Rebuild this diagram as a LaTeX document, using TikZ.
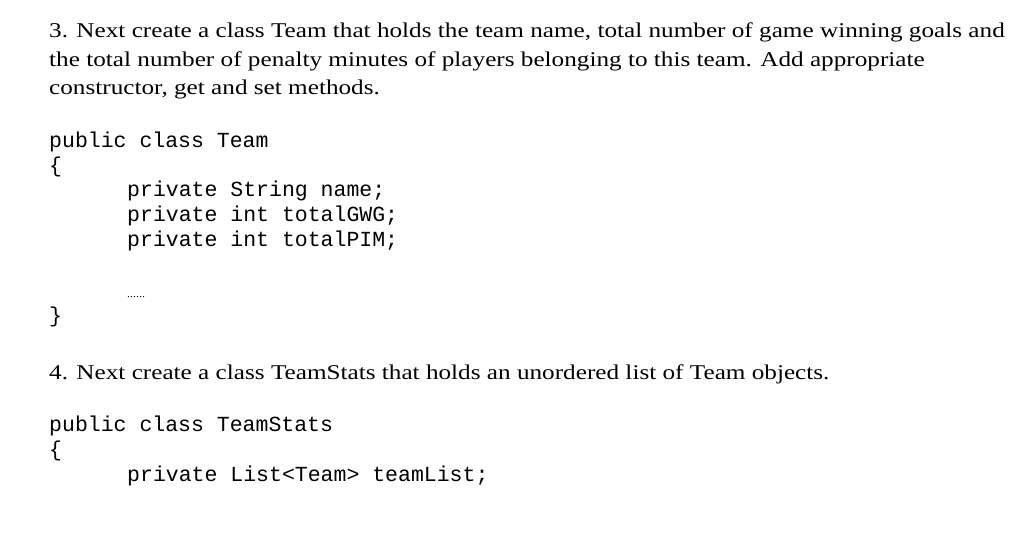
\documentclass[tikz,border=0pt]{standalone}
\usepackage{fontspec}
\setmainfont{Liberation Serif}[FakeStretch=1.2]
\setmonofont{Liberation Mono}
\begin{document}
\begin{tikzpicture}[x=1pt,y=-1pt,
  tl/.style={anchor=base west,inner sep=0pt,font=\fontsize{21}{25}\selectfont},
  cl/.style={anchor=base west,inner sep=0pt,font=\ttfamily\fontsize{21.5}{25}\selectfont}]
\useasboundingbox[fill=white] (0,0) rectangle (1022,537);
\node[tl] (t1) at (49,38) {3. Next create a class Team that holds the team name, total number of game winning goals and};
\node[tl] (t2) at (49,67) {the total number of penalty minutes of players belonging to this team. Add appropriate};
\node[tl] (t3) at (49,95) {constructor, get and set methods.};
\node[cl] (c1) at (49,148) {public class Team};
\node[cl] (c2) at (49,173) {\{};
\node[cl] (c3) at (127,197) {private String name;};
\node[cl] (c4) at (127,222) {private int totalGWG;};
\node[cl] (c5) at (127,247) {private int totalPIM;};
\node[anchor=base west,inner sep=0pt,font=\fontsize{10}{12}\selectfont] (c6) at (127,297) {......};
\node[cl] (c7) at (49,322) {\}};
\node[tl] (t4) at (49,379) {4. Next create a class TeamStats that holds an unordered list of Team objects.};
\node[cl] (d1) at (49,431) {public class TeamStats};
\node[cl] (d2) at (49,456) {\{};
\node[cl] (d3) at (127,481) {private List<Team> teamList;};
\end{tikzpicture}
\end{document}
